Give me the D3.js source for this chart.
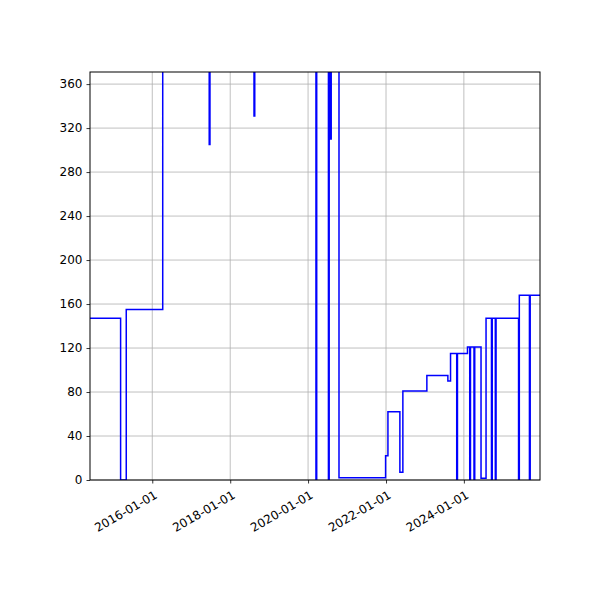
<!DOCTYPE html>
<html>
<head>
<meta charset="utf-8">
<script src="https://cdn.jsdelivr.net/npm/d3@7"></script>
<style>
  body { margin: 0; background: #fff; }
  text { font-family: "DejaVu Sans", sans-serif; }
</style>
</head>
<body>
<svg></svg>
<script>
const width = 600;
const height = 600;
const M = { left: 90, right: 60, top: 72, bottom: 120 };

// step-after series: date, value (values above the axis top are clipped)
const dates = [
  "2014-05-01", "2015-03-10", "2015-05-02", "2016-04-08",
  "2017-06-18", "2017-06-25", "2018-08-12", "2018-08-19",
  "2020-03-15", "2020-03-22", "2020-07-10", "2020-07-17",
  "2020-07-23", "2020-08-05", "2020-10-17", "2021-12-28",
  "2022-01-19", "2022-05-11", "2022-06-08", "2023-01-19",
  "2023-08-04", "2023-08-29", "2023-10-26", "2023-11-02",
  "2024-02-04", "2024-02-25", "2024-03-03", "2024-04-05",
  "2024-04-12", "2024-06-10", "2024-07-27", "2024-09-16",
  "2024-09-23", "2024-10-22", "2024-10-29", "2025-05-28",
  "2025-06-04", "2025-09-07", "2025-09-14", "2025-12-31"
];
const values = [
  147, 0, 155, 1000,
  305, 1000, 331, 1000,
  0, 1000, 0, 1000,
  310, 1000, 2, 22,
  62, 7, 81, 95,
  90, 115, 0, 115,
  121, 0, 121, 0,
  121, 1.5, 147, 0,
  147, 0, 147, 0,
  168, 0, 168, 168
];
const xDomain = ["2014-05-27", "2025-12-15"];
const yTicks = [0, 40, 80, 120, 160, 200, 240, 280, 320, 360];
const xTicks = ["2016-01-01", "2018-01-01", "2020-01-01", "2022-01-01", "2024-01-01"];

const parse = d3.timeParse("%Y-%m-%d");
const data = dates.map((d, i) => ({ date: parse(d), value: values[i] }));

const svg = d3.select("svg").attr("width", width).attr("height", height);

const x = d3.scaleTime()
  .domain(xDomain.map(parse))
  .range([M.left, width - M.right]);
const y = d3.scaleLinear()
  .domain([0, 371])
  .range([height - M.bottom, M.top]);

/* grid */
svg.append("g")
  .selectAll("line")
  .data(xTicks.map(parse))
  .join("line")
  .attr("x1", d => x(d)).attr("x2", d => x(d))
  .attr("y1", M.top).attr("y2", height - M.bottom)
  .attr("stroke", "#b0b0b0").attr("stroke-width", 0.8);
svg.append("g")
  .selectAll("line")
  .data(yTicks)
  .join("line")
  .attr("x1", M.left).attr("x2", width - M.right)
  .attr("y1", d => y(d)).attr("y2", d => y(d))
  .attr("stroke", "#b0b0b0").attr("stroke-width", 0.8);

/* line, clipped */
svg.append("clipPath").attr("id", "clip")
  .append("rect")
  .attr("x", M.left).attr("y", M.top)
  .attr("width", width - M.left - M.right)
  .attr("height", height - M.top - M.bottom);

const line = d3.line()
  .x(d => x(d.date))
  .y(d => y(d.value))
  .curve(d3.curveStepAfter);

svg.append("path")
  .datum(data)
  .attr("clip-path", "url(#clip)")
  .attr("fill", "none")
  .attr("stroke", "blue")
  .attr("stroke-width", 1.5)
  .attr("d", line);

/* axes */
const xAxis = svg.append("g")
  .attr("transform", `translate(0,${height - M.bottom})`)
  .call(d3.axisBottom(x).tickValues(xTicks.map(parse))
    .tickFormat(d3.timeFormat("%Y-%m-%d")).tickSize(3.5).tickPadding(4));
xAxis.selectAll("text")
  .attr("text-anchor", "end")
  .attr("dy", "0.35em")
  .attr("transform", "rotate(-30) translate(-4,6)")
  .style("font-size", "12px")
  .attr("fill", "#000");

const yAxis = svg.append("g")
  .attr("transform", `translate(${M.left},0)`)
  .call(d3.axisLeft(y).tickValues(yTicks).tickSize(3.5).tickPadding(4));
yAxis.selectAll("text").style("font-size", "12px").attr("fill", "#000");

[xAxis, yAxis].forEach(a => {
  a.select(".domain").remove();
  a.selectAll("line").attr("stroke", "#000").attr("stroke-width", 0.8);
});

svg.append("rect")
  .attr("x", M.left).attr("y", M.top)
  .attr("width", width - M.left - M.right)
  .attr("height", height - M.top - M.bottom)
  .attr("fill", "none").attr("stroke", "#000").attr("stroke-width", 1);
</script>
</body>
</html>
